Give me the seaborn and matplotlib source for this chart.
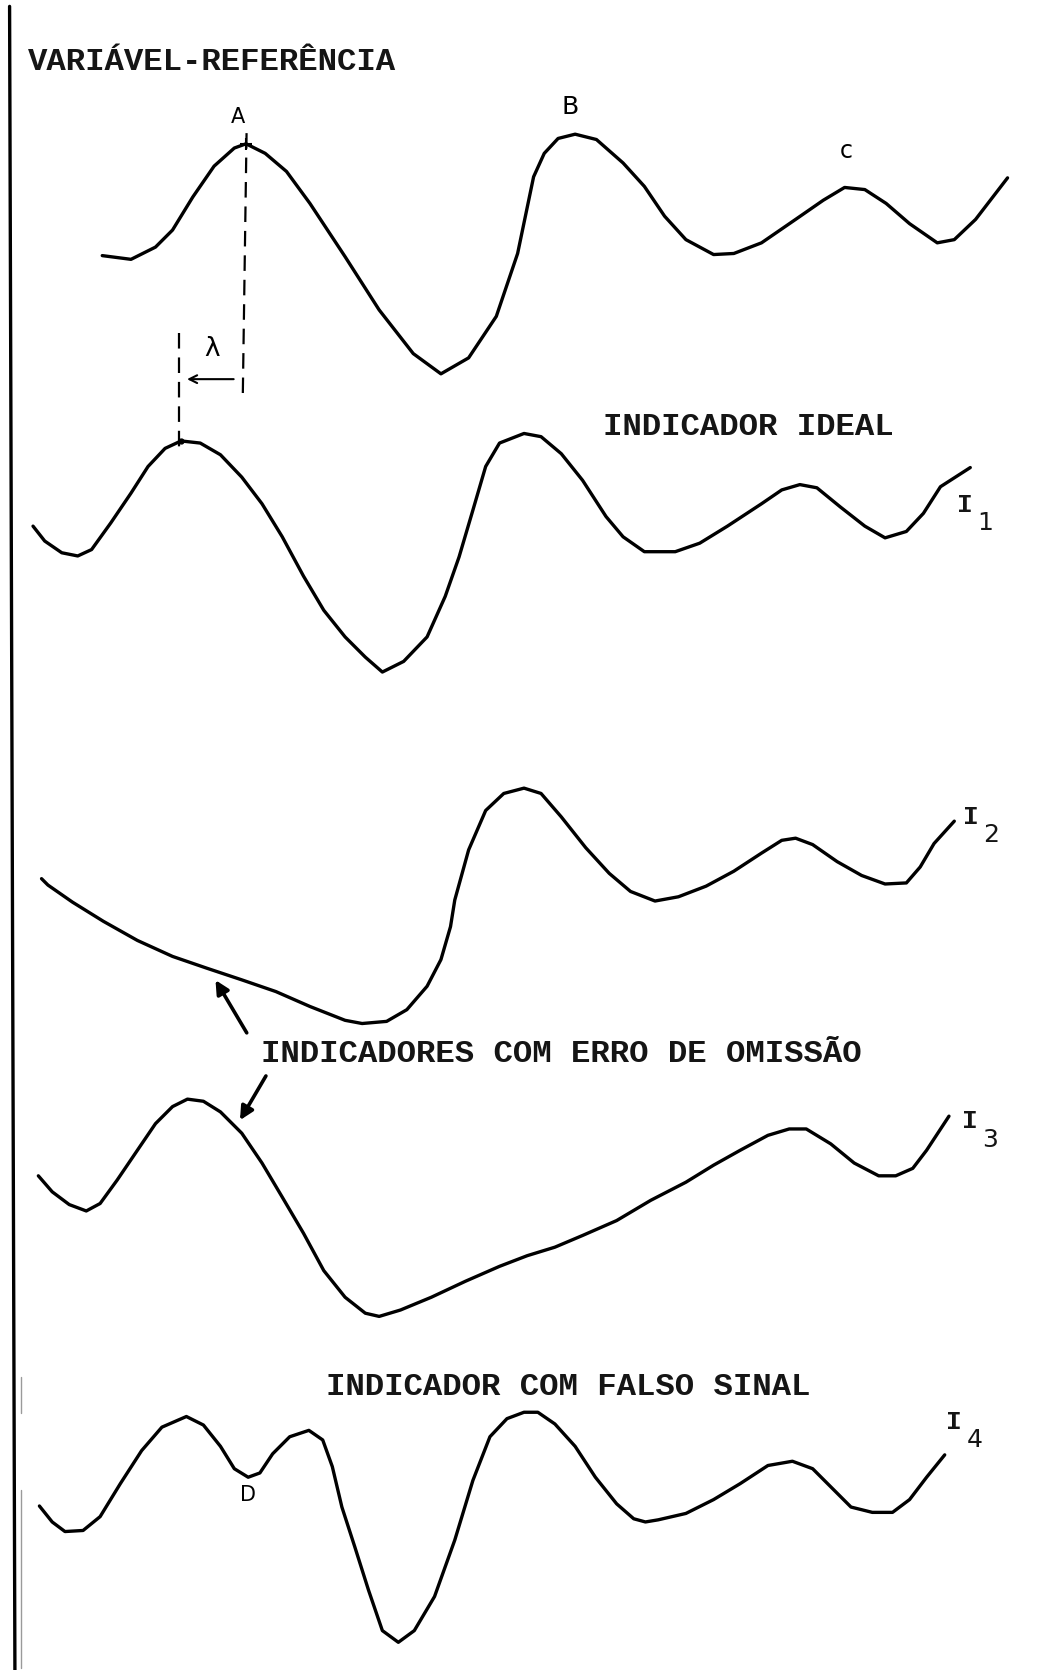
import matplotlib
matplotlib.use("Agg")
import matplotlib.pyplot as plt
import seaborn as sns

sns.set_theme(style="white")
plt.rcParams['font.family'] = ['Liberation Mono', 'DejaVu Sans']

# ---------------- data (page coordinates, y downwards) -------------
ref_x = [96, 123, 146, 162, 181, 201, 220, 231, 249, 269, 291, 324, 356, 388, 414, 440, 466, 486,
         501, 511, 524, 540, 560, 585, 605, 624, 644, 670, 689, 715, 747, 773, 793, 812, 832, 854,
         880, 896, 916, 946]
ref_y = [240, 243.5, 232, 216, 185, 156, 139, 135, 144, 161, 191, 241, 291, 332, 351, 336, 297, 238,
         166, 144, 130, 126, 131, 153, 175, 203, 225, 239, 238, 228, 206, 188, 176, 178, 191, 210,
         228, 225, 206, 167]

i1_x = [31, 42, 58, 73, 86, 104, 123, 139, 155, 170, 188, 207, 227, 246, 265, 285, 304, 324, 343,
        359, 379, 401, 418, 431, 444, 456, 469, 492, 508, 527, 547, 569, 585, 605, 634, 657, 683,
        715, 734, 751, 767, 789, 812, 831, 851, 867, 883, 911]
i1_y = [494, 508, 519, 522, 516, 491, 463, 438, 421, 414, 416, 427, 448, 473, 504, 541, 573, 598,
        617, 631, 621, 598, 560, 523, 479, 438, 416, 407, 410, 426, 451, 485, 504, 518, 518, 510,
        494, 473, 460, 455, 458, 476, 494, 505, 499, 482, 457, 439]

i2_x = [39, 45, 68, 97, 129, 162, 194, 227, 259, 291, 324, 340, 363, 382, 401, 414, 423, 427, 440,
        456, 473, 492, 508, 527, 550, 572, 592, 615, 637, 663, 689, 715, 734, 747, 763, 786, 809,
        831, 851, 864, 877, 896]
i2_y = [825, 831, 847, 865, 883, 898, 909, 920, 931, 945, 958, 961, 959, 948, 926, 901, 870, 845,
        798, 761, 745, 740, 745, 767, 796, 820, 837, 846, 842, 832, 818, 801, 789, 787, 793, 809,
        822, 830, 829, 814, 792, 771]

i3_x = [36, 49, 65, 81, 94, 110, 129, 146, 162, 176, 191, 207, 227, 246, 265, 285, 304, 324, 343,
        356, 376, 405, 437, 469, 495, 521, 547, 579, 611, 644, 670, 695, 721, 741, 757, 780, 802,
        825, 841, 857, 870, 891]
i3_y = [1104, 1119, 1131, 1137, 1130, 1108, 1080, 1055, 1039, 1032, 1034, 1044, 1064, 1092, 1124,
        1158, 1193, 1218, 1233, 1236, 1230, 1218, 1203, 1189, 1179, 1171, 1160, 1146, 1127, 1110,
        1094, 1080, 1066, 1060, 1060, 1074, 1092, 1104, 1104, 1097, 1080, 1048]

i4_x = [37, 49, 61, 78, 94, 113, 133, 152, 175, 191, 207, 220, 233, 244, 256, 272, 290, 303, 312,
        321, 333, 346, 359, 374, 389, 408, 427, 444, 460, 476, 492, 505, 521, 540, 559, 579, 595,
        606, 618, 644, 670, 695, 721, 744, 763, 783, 799, 819, 838, 854, 870, 887]
i4_y = [1414, 1429, 1438, 1437, 1424, 1393, 1362, 1340, 1330, 1338, 1358, 1379, 1387, 1383, 1365,
        1349, 1343, 1352, 1377, 1415, 1452, 1493, 1531, 1542, 1531, 1499, 1446, 1390, 1349, 1332,
        1326, 1326, 1337, 1358, 1387, 1412, 1426, 1429, 1427, 1421, 1408, 1393, 1376, 1372, 1379,
        1399, 1415, 1420, 1420, 1408, 1387, 1366]

curve_labels = ["", "1", "2", "3", "4"]

titles = ["VARIÁVEL-REFERÊNCIA", "INDICADOR IDEAL",
          "INDICADORES COM ERRO DE OMISSÃO", "INDICADOR COM FALSO SINAL"]
title_pos = [(26, 58), (566, 401), (245, 990), (306, 1302)]

point_labels = ["A", "B", "c", "D"]
point_pos = [(223, 110), (535, 100), (795, 142), (233, 1404)]
point_sizes = [15, 18, 17, 15]

sub_pos = [None, (906, 474), (912, 767), (911, 1053), (896, 1335)]

# lag construction (A -> I1 peak)
lag_right_x = [231.5, 228]
lag_right_y = [125, 369]
lag_left_x = [168, 168]
lag_left_y = [313, 420]

# ---------------- figure ----------------
fig = plt.figure(figsize=(10.64, 16.70), dpi=100)
ax = fig.add_axes([0, 0, 1, 1])

curves = [(ref_x, ref_y), (i1_x, i1_y), (i2_x, i2_y), (i3_x, i3_y), (i4_x, i4_y)]
for xs, ys in curves:
    sns.lineplot(x=xs, y=ys, sort=False, estimator=None, ax=ax, color="black",
                 linewidth=2.4, solid_joinstyle="round", solid_capstyle="round")

# left page border
sns.lineplot(x=[9, 14], y=[6, 1568], sort=False, estimator=None, ax=ax, color="black",
             linewidth=2.4)
sns.lineplot(x=[20, 20], y=[1399, 1566], sort=False, estimator=None, ax=ax, color="#9a9a9a",
             linewidth=1.0)
sns.lineplot(x=[20, 20], y=[1293, 1327], sort=False, estimator=None, ax=ax, color="#9a9a9a",
             linewidth=1.0)

# dashed lag lines
ax.plot(lag_right_x, lag_right_y, color="black", linewidth=1.6, dashes=(7, 4))
ax.plot(lag_left_x, lag_left_y, color="black", linewidth=1.6, dashes=(7, 4))
ax.annotate("", xy=(173, 356), xytext=(222, 356),
            arrowprops=dict(arrowstyle="->", color="black", lw=1.5, mutation_scale=14))
ax.text(199, 328, "λ", fontsize=19, family="DejaVu Sans", ha="center", va="center",
        color="black")
ax.plot([231], [135], marker="+", color="black", markersize=9, mew=1.5)
ax.plot([170], [414], marker="o", color="black", markersize=3.5)

# arrows to omission indicators
ax.annotate("", xy=(201, 918), xytext=(233, 972),
            arrowprops=dict(arrowstyle="-|>", color="black", lw=2.6, mutation_scale=20))
ax.annotate("", xy=(224, 1054), xytext=(251, 1008),
            arrowprops=dict(arrowstyle="-|>", color="black", lw=2.6, mutation_scale=20))

# typed titles
for t, (x, y) in zip(titles, title_pos):
    ax.text(x, y, t, fontsize=23.3, fontweight="bold", ha="left", va="center", color="#151515")

# handwritten point labels
for t, (x, y), s in zip(point_labels, point_pos, point_sizes):
    ax.text(x, y, t, fontsize=s, family="DejaVu Sans", ha="center", va="center", color="black")

# indicator labels I with subscript
for lab, pos in zip(curve_labels, sub_pos):
    if pos is None:
        continue
    x, y = pos
    ax.text(x, y, "I", fontsize=19, fontweight="bold", ha="center", va="center", color="#151515")
    ax.text(x + 19, y + 17, lab, fontsize=18, family="DejaVu Sans", ha="center", va="center",
            color="#151515")

ax.set_xlim(0, 999)
ax.set_ylim(1568, 0)
ax.axis("off")
fig.savefig("out.png", dpi=100, facecolor="white")
